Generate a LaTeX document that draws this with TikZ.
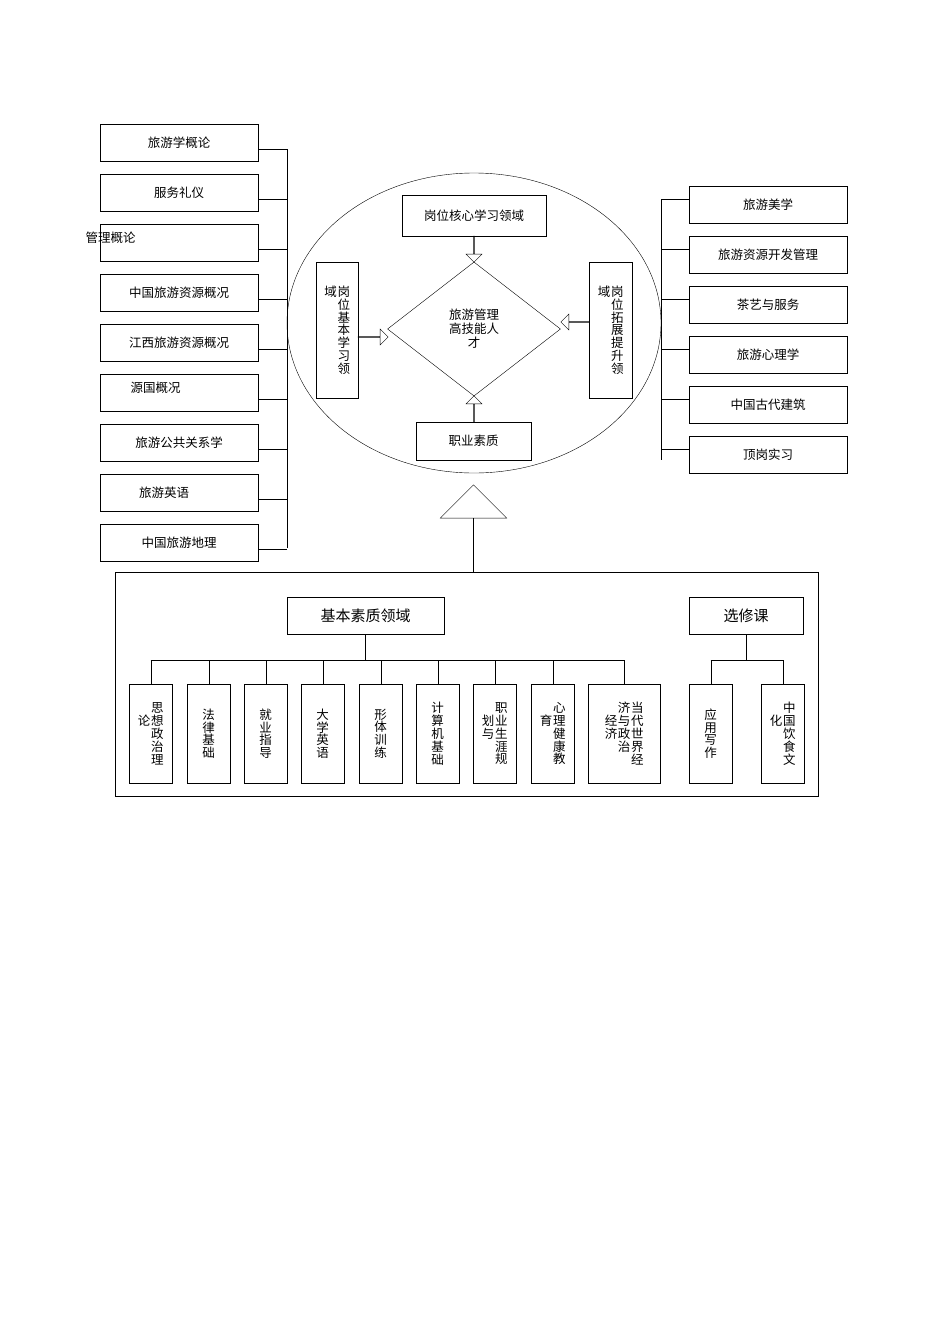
\documentclass[tikz,border=0pt]{standalone}
\usepackage{fontspec}
\setmainfont{Noto Sans CJK SC}
\usetikzlibrary{shapes, shapes.arrows, positioning}
\newcommand{\vc}[1]{\parbox[t]{1.05em}{\centering\linespread{0.92}\selectfont #1}}

\begin{document}
\begin{tikzpicture}[
  x=1pt, y=-1pt,
  thin,
  font=\fontsize{12.5}{14}\selectfont,
  course/.style={draw, minimum width=158pt, minimum height=37pt},
  vbox/.style={draw, minimum width=43pt, minimum height=99pt, anchor=north west,
    align=center, inner sep=2pt},
  hol/.style={draw, single arrow, single arrow head extend=4pt, minimum height=28pt,
    minimum width=16pt, inner sep=0pt}
]
\useasboundingbox (0,0) rectangle (950,1344);

% left courses
\foreach \t [count=\i] in {旅游学概论, 服务礼仪, {}, 中国旅游资源概况, 江西旅游资源概况,
  {}, 旅游公共关系学, {\hspace*{-30pt}旅游英语}, 中国旅游地理}{
  \node[course] (l\i) at (179,{142.5+50*(\i-1)}) {\t};
  \draw (258,{149+50*(\i-1)}) -- (287,{149+50*(\i-1)});
}
\node[anchor=west] at (82,238) {管理概论};
\node[anchor=west] at (127,388) {源国概况};
\draw (287,149) -- (287,548);

% right courses
\foreach \t [count=\i] in {旅游美学, 旅游资源开发管理, 茶艺与服务, 旅游心理学, 中国古代建筑, 顶岗实习}{
  \node[course] (r\i) at (768,{204.5+50*(\i-1)}) {\t};
  \draw (661,{199+50*(\i-1)}) -- (689,{199+50*(\i-1)});
}
\draw (661,199) -- (661,460);

% core ellipse
\node[draw, ellipse, minimum width=374pt, minimum height=300pt] (oval) at (474,323) {};
\node[draw, minimum width=144pt, minimum height=41pt] (core) at (474,215.5) {岗位核心学习领域};
\node[draw, diamond, minimum width=173pt, minimum height=134pt, aspect=1.3,
  inner sep=0pt] (goal) at (474,329) {};
\node[align=center] at (goal) {旅游管理\\高技能人\\才};
\node[draw, minimum width=42pt, minimum height=136pt, anchor=north west, align=center]
  (basic) at (316,262) {\vc{域}\vc{岗\\位\\基\\本\\学\\习\\领}};
\node[draw, minimum width=43pt, minimum height=136pt, anchor=north west, align=center]
  (ext) at (589,262) {\vc{域}\vc{岗\\位\\拓\\展\\提\\升\\领}};
\node[draw, minimum width=115pt, minimum height=38pt] (qual) at (473.5,441) {职业素质};
\node[hol, rotate=-90, minimum height=26pt] at (474,249) {};
\node[hol, minimum height=30pt] at (373,337) {};
\node[hol, rotate=180, minimum height=28pt] at (575,322) {};
\node[hol, rotate=90, minimum height=26pt] at (474,409) {};
\node[draw, single arrow, rotate=90, minimum height=87pt, minimum width=41pt,
  single arrow head extend=33pt, inner sep=0pt, single arrow head indent=0pt] at (473.5,528.5) {};

% basic quality domain
\draw (115,572) rectangle (818,796);
\node[draw, minimum width=157pt, minimum height=37pt, font=\fontsize{15}{17}\selectfont]
  (base) at (365.5,615.5) {基本素质领域};
\node[draw, minimum width=114pt, minimum height=37pt, font=\fontsize{15}{17}\selectfont]
  (elec) at (746,615.5) {选修课};
\draw (base.south) -- (365.5,660);
\draw (150.5,660) -- (624,660);
\foreach \x/\t [count=\i] in {
  129/{\vc{\mbox{}\\论}\vc{思\\想\\政\\治\\理}},
  187/{\vc{法\\律\\基\\础}},
  244/{\vc{就\\业\\指\\导}},
  301/{\vc{大\\学\\英\\语}},
  359/{\vc{形\\体\\训\\练}},
  416/{\vc{计\\算\\机\\基\\础}},
  473/{\vc{\mbox{}\\划\\与}\vc{职\\业\\生\\涯\\规}},
  531/{\vc{\mbox{}\\育}\vc{心\\理\\健\\康\\教}}}{
  \node[vbox] (b\i) at (\x,684) {\t};
  \draw (b\i.north) -- ++(0,-24);
}
\node[vbox, minimum width=72pt] (b9) at (588,684)
  {\vc{\mbox{}\\经\\济}\vc{济\\与\\政\\治}\vc{当\\代\\世\\界\\经}};
\draw (b9.north) -- ++(0,-24);
\draw (elec.south) -- (746,660);
\draw (710.5,660) -- (782.5,660);
\node[vbox] (e1) at (689,684) {\vc{应\\用\\写\\作}};
\node[vbox] (e2) at (761,684) {\vc{\mbox{}\\化}\vc{中\\国\\饮\\食\\文}};
\draw (e1.north) -- ++(0,-24);
\draw (e2.north) -- ++(0,-24);
\end{tikzpicture}
\end{document}
